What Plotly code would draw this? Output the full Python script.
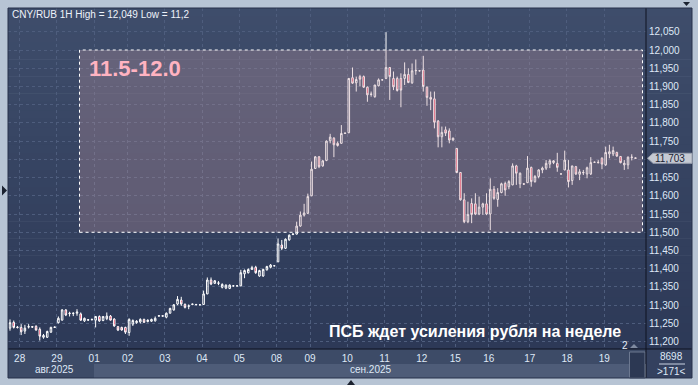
import plotly.graph_objects as go

# ---------------- data (hourly CNY/RUB candles) ----------------
opens = [11237, 11253, 11240, 11239, 11229, 11240, 11241, 11242, 11234, 11212,
         11212, 11226, 11239, 11252, 11259, 11287, 11278, 11277, 11278, 11276,
         11257, 11259, 11260, 11259, 11269, 11258, 11263, 11270, 11262, 11241,
         11239, 11239, 11225, 11248, 11252, 11254, 11261, 11255, 11256, 11257,
         11270, 11271, 11267, 11278, 11287, 11303, 11314, 11302, 11297, 11302,
         11301, 11301, 11302, 11331, 11369, 11360, 11360, 11349, 11347, 11346,
         11353, 11353, 11353, 11386, 11389, 11398, 11404, 11380, 11380, 11397,
         11404, 11408, 11419, 11465, 11456, 11479, 11494, 11495, 11517, 11547,
         11552, 11600, 11675, 11707, 11682, 11697, 11751, 11758, 11744, 11744,
         11771, 11773, 11924, 11910, 11927, 11927, 11898, 11878, 11872, 11902,
         11918, 11922, 11952, 11922, 11922, 11922, 11922, 11933, 11910, 11943,
         11943, 11945, 11898, 11870, 11866, 11805, 11762, 11781, 11778, 11753,
         11730, 11664, 11589, 11529, 11579, 11578, 11550, 11569, 11578, 11550,
         11618, 11590, 11609, 11634, 11625, 11630, 11682, 11633, 11633, 11636,
         11678, 11639, 11653, 11671, 11676, 11687, 11691, 11689, 11660, 11671,
         11671, 11642, 11680, 11659, 11663, 11660, 11660, 11692, 11692, 11703,
         11685, 11715, 11715, 11719, 11708, 11685, 11685, 11705, 11704]
highs = [11261, 11258, 11243, 11248, 11246, 11248, 11243, 11245, 11239, 11221,
         11230, 11241, 11241, 11269, 11289, 11289, 11282, 11280, 11289, 11280,
         11266, 11262, 11263, 11270, 11272, 11270, 11280, 11273, 11264, 11243,
         11241, 11241, 11264, 11261, 11259, 11264, 11263, 11261, 11263, 11269,
         11272, 11272, 11280, 11293, 11303, 11325, 11323, 11305, 11302, 11304,
         11303, 11302, 11340, 11376, 11376, 11369, 11366, 11360, 11357, 11357,
         11355, 11354, 11397, 11398, 11401, 11408, 11408, 11397, 11400, 11408,
         11413, 11409, 11483, 11479, 11483, 11494, 11497, 11529, 11557, 11578,
         11606, 11694, 11709, 11709, 11698, 11752, 11770, 11761, 11749, 11794,
         11773, 11923, 11952, 11927, 11932, 11930, 11900, 11886, 11904, 11922,
         11919, 12049, 11953, 11941, 11927, 11936, 11966, 11950, 11963, 11974,
         11945, 11984, 11900, 11886, 11886, 11808, 11790, 11790, 11785, 11760,
         11731, 11665, 11607, 11584, 11593, 11607, 11598, 11581, 11607, 11648,
         11627, 11621, 11636, 11639, 11643, 11689, 11685, 11664, 11634, 11709,
         11680, 11657, 11673, 11680, 11698, 11700, 11698, 11718, 11661, 11724,
         11698, 11682, 11682, 11673, 11671, 11680, 11706, 11694, 11698, 11706,
         11735, 11740, 11735, 11721, 11709, 11698, 11708, 11714, 11705]
lows = [11230, 11236, 11236, 11218, 11221, 11236, 11238, 11230, 11203, 11208,
        11210, 11224, 11238, 11250, 11258, 11270, 11269, 11270, 11271, 11257,
        11254, 11257, 11258, 11239, 11254, 11256, 11259, 11258, 11241, 11229,
        11230, 11221, 11216, 11243, 11249, 11250, 11251, 11253, 11254, 11255,
        11269, 11269, 11264, 11277, 11285, 11300, 11298, 11291, 11289, 11300,
        11300, 11300, 11301, 11330, 11355, 11358, 11355, 11346, 11344, 11344,
        11351, 11352, 11352, 11374, 11387, 11397, 11386, 11378, 11378, 11395,
        11401, 11407, 11418, 11451, 11454, 11477, 11492, 11494, 11515, 11543,
        11550, 11599, 11674, 11676, 11680, 11695, 11744, 11706, 11735, 11743,
        11770, 11772, 11907, 11886, 11900, 11896, 11858, 11872, 11869, 11900,
        11917, 11920, 11863, 11890, 11886, 11843, 11904, 11909, 11907, 11932,
        11941, 11886, 11847, 11835, 11785, 11733, 11733, 11764, 11744, 11751,
        11662, 11587, 11525, 11525, 11525, 11547, 11547, 11548, 11547, 11506,
        11589, 11570, 11607, 11600, 11618, 11629, 11630, 11621, 11631, 11635,
        11625, 11636, 11648, 11662, 11671, 11676, 11687, 11666, 11659, 11670,
        11623, 11630, 11657, 11643, 11657, 11648, 11657, 11690, 11689, 11673,
        11682, 11703, 11709, 11707, 11689, 11671, 11673, 11697, 11703]
closes = [11252, 11239, 11239, 11227, 11237, 11241, 11240, 11232, 11215, 11217,
          11228, 11239, 11240, 11264, 11287, 11273, 11277, 11278, 11281, 11259,
          11264, 11260, 11261, 11269, 11257, 11269, 11270, 11259, 11243, 11232,
          11232, 11226, 11261, 11258, 11256, 11261, 11253, 11259, 11261, 11264,
          11271, 11270, 11278, 11291, 11301, 11316, 11303, 11294, 11298, 11303,
          11302, 11301, 11331, 11369, 11358, 11367, 11361, 11357, 11355, 11355,
          11353, 11353, 11389, 11395, 11398, 11403, 11389, 11395, 11398, 11406,
          11410, 11408, 11468, 11456, 11481, 11492, 11495, 11517, 11547, 11553,
          11598, 11673, 11707, 11680, 11696, 11750, 11761, 11740, 11738, 11771,
          11772, 11922, 11909, 11919, 11920, 11898, 11877, 11879, 11904, 11918,
          11918, 11952, 11927, 11899, 11889, 11890, 11933, 11911, 11943, 11944,
          11943, 11900, 11870, 11865, 11802, 11762, 11774, 11772, 11753, 11758,
          11664, 11589, 11529, 11549, 11549, 11550, 11569, 11578, 11550, 11618,
          11593, 11609, 11633, 11616, 11639, 11682, 11662, 11662, 11632, 11676,
          11639, 11653, 11671, 11676, 11689, 11696, 11696, 11678, 11660, 11698,
          11639, 11682, 11660, 11666, 11664, 11677, 11691, 11692, 11691, 11687,
          11719, 11721, 11724, 11709, 11691, 11689, 11706, 11706, 11703]

# trading days: label and number of hourly candles in each (first is a partial day)
day_labels = ["", "28", "29", "01", "02", "03", "04", "05", "08", "09",
              "10", "11", "12", "15", "16", "17", "18", "19"]
day_sizes = [3, 10, 10, 9, 10, 10, 10, 10, 9, 10, 10, 10, 9, 9, 11, 10, 10, 9]
month_labels = ["авг.2025", "сен.2025"]
y_ticks = list(range(11200, 12051, 50))
zone_low, zone_high = 11500, 12000
zone_label = "11.5-12.0"
header = "CNY/RUB 1H High = 12,049 Low = 11,2"
caption = "ПСБ ждет усиления рубля на неделе"
bars_info = ["8698", ">171<"]

# ---------------- geometry helpers (pixels -> paper) ----------------
W, H = 698, 385
L, R, T, B = 8, 646, 8, 349
def px(x):
    return (x - L) / (R - L)
def py(y):
    return (B - y) / (B - T)

x_idx = list(range(len(opens)))
starts, acc = [], 0
for s in day_sizes:
    starts.append(acc)
    acc += s
tickvals = [st - 0.4 for st, lab in zip(starts, day_labels) if lab]
ticktext = [lab for lab in day_labels if lab]

last = closes[-1]
# the price marker hides the tick label nearest to the last price
hidden = min(y_ticks, key=lambda v: abs(v - last))
y_text = ["" if v == hidden else "{:,}".format(v) for v in y_ticks]

FONT = "Arial, 'Liberation Sans', sans-serif"
LABEL_C = "#dfe8f6"
FS = 10

fig = go.Figure()
fig.add_trace(go.Candlestick(
    x=x_idx, open=opens, high=highs, low=lows, close=closes,
    increasing=dict(line=dict(color="#ffffff", width=1), fillcolor="rgba(0,0,0,0)"),
    decreasing=dict(line=dict(color="#ffffff", width=1), fillcolor="#e8173f"),
    whiskerwidth=0, showlegend=False, hoverinfo="skip"))

shapes = []
# gradient background for chart panel
c0, c1 = (62, 77, 107), (45, 57, 87)
n = 40
for i in range(n):
    t = i / (n - 1)
    col = tuple(round(c0[k] + (c1[k] - c0[k]) * t) for k in range(3))
    y0 = T + (B - T) * i / n
    y1 = T + (B - T) * (i + 1) / n + 0.6
    shapes.append(dict(type="rect", xref="paper", yref="paper", layer="below",
                       x0=px(L), x1=px(692), y0=py(y1), y1=py(y0),
                       fillcolor="rgb(%d,%d,%d)" % col, line=dict(width=0)))
# bottom axis rows
shapes += [
    dict(type="rect", xref="paper", yref="paper", layer="below", x0=px(8), x1=px(646),
         y0=py(364), y1=py(349), fillcolor="#3d4b67", line=dict(width=0)),
    dict(type="rect", xref="paper", yref="paper", layer="below", x0=px(8), x1=px(94),
         y0=py(378), y1=py(364), fillcolor="#3d4b67", line=dict(width=0)),
    dict(type="rect", xref="paper", yref="paper", layer="below", x0=px(94), x1=px(629),
         y0=py(378), y1=py(364), fillcolor="#4e5c78", line=dict(width=0)),
    dict(type="rect", xref="paper", yref="paper", layer="below", x0=px(646), x1=px(692),
         y0=py(378), y1=py(349), fillcolor="#34415f", line=dict(width=0)),
    dict(type="rect", xref="paper", yref="paper", layer="above", x0=px(629.5), x1=px(645),
         y0=py(378), y1=py(352), fillcolor="#2c3853", line=dict(color="#6c7890", width=1)),
]
# zone rectangle
shapes.append(dict(type="rect", xref="paper", yref="y", layer="above",
                   x0=px(79.5), x1=px(642.5), y0=zone_low, y1=zone_high,
                   fillcolor="rgba(200,155,165,0.30)",
                   line=dict(color="#ffffff", width=1, dash="dot")))
# separators and border
shapes += [
    dict(type="line", xref="paper", yref="paper", layer="above", x0=px(8), x1=px(692),
         y0=py(349), y1=py(349), line=dict(color="#0e1320", width=1)),
    dict(type="line", xref="paper", yref="paper", layer="above", x0=px(646), x1=px(646),
         y0=py(378), y1=py(8), line=dict(color="#0e1320", width=1)),
    dict(type="rect", xref="paper", yref="paper", layer="above", x0=px(8), x1=px(692),
         y0=py(378), y1=py(8), line=dict(color="#26304a", width=1)),
    dict(type="line", xref="paper", yref="paper", layer="above", x0=px(659), x1=px(685),
         y0=py(364), y1=py(364), line=dict(color="#c9d3e3", width=1)),
]
# last price marker
dy = 5 * (12115.2 - 11179.8) / (B - T)
shapes.append(dict(type="path", xref="paper", yref="y", layer="above",
                   path="M %f,%f L %f,%f L %f,%f L %f,%f L %f,%f Z" % (
                       px(647.5), last, px(653), last + dy, px(692), last + dy,
                       px(692), last - dy, px(653), last - dy),
                   fillcolor="#c5cad3", line=dict(color="#9aa2b0", width=1)))
# small triangles around the frame
def tri(points, color):
    p = " L ".join("%f,%f" % (px(a), py(b)) for a, b in points)
    return dict(type="path", xref="paper", yref="paper", layer="above",
                path="M " + p + " Z", fillcolor=color, line=dict(width=0))
shapes += [
    tri([(2, 185.5), (7, 190.5), (2, 195.5)], "#1b2230"),
    tri([(683, 2), (690, 2), (686.5, 6)], "#1b2230"),
    tri([(347, 385), (355, 385), (351, 380)], "#1b2230"),
    tri([(630, 348), (638, 348), (634, 344)], "#7f8aa0"),
]

ann = [
    dict(x=px(10), y=py(15), text=header, xanchor="left", yanchor="middle",
         font=dict(size=FS, color="#eef2fa", family=FONT)),
    dict(x=px(87), y=py(69), text="<b>%s</b>" % zone_label, xanchor="left", yanchor="middle",
         font=dict(size=22, color="#ffb3c1", family=FONT)),
    dict(x=px(475), y=py(331), text="<b>%s</b>" % caption, xanchor="center", yanchor="middle",
         font=dict(size=16, color="#ffffff", family=FONT)),
    dict(x=px(625), y=py(345), text="2", xanchor="center", yanchor="middle",
         font=dict(size=10, color="#e8eef8", family=FONT)),
    dict(x=px(54), y=py(369.5), text=month_labels[0], xanchor="center", yanchor="middle",
         font=dict(size=FS, color=LABEL_C, family=FONT)),
    dict(x=px(371), y=py(369.5), text=month_labels[1], xanchor="center", yanchor="middle",
         font=dict(size=FS, color=LABEL_C, family=FONT)),
    dict(x=px(671.5), y=py(356.5), text=bars_info[0], xanchor="center", yanchor="middle",
         font=dict(size=FS, color=LABEL_C, family=FONT)),
    dict(x=px(671.5), y=py(371), text=bars_info[1], xanchor="center", yanchor="middle",
         font=dict(size=FS, color=LABEL_C, family=FONT)),
    dict(x=px(670), y=last, yref="y", text="{:,}".format(last), xanchor="center", yanchor="middle",
         font=dict(size=FS, color="#1a2233", family=FONT)),
]
for a in ann:
    a.setdefault("xref", "paper")
    a.setdefault("yref", "paper")
    a["showarrow"] = False

GRID = "#4e5d7d"
fig.update_layout(
    width=W, height=H, margin=dict(l=L, r=W - R, t=T, b=H - B, pad=0),
    paper_bgcolor="#b7c4d4", plot_bgcolor="rgba(0,0,0,0)",
    showlegend=False, boxgap=0.4,
    font=dict(family=FONT, size=FS, color=LABEL_C),
    shapes=shapes, annotations=ann,
    xaxis=dict(range=[-0.537, 170.83], tickvals=tickvals, ticktext=ticktext,
               showgrid=True, gridcolor=GRID, griddash="3px,3px", gridwidth=1,
               zeroline=False, showline=False, ticks="", ticklabelstandoff=2,
               tickfont=dict(size=FS, color=LABEL_C, family=FONT),
               rangeslider=dict(visible=False), fixedrange=True),
    yaxis=dict(range=[11179.8, 12115.2], side="right", tickvals=y_ticks, ticktext=y_text,
               showgrid=True, gridcolor=GRID, griddash="3px,3px", gridwidth=1,
               zeroline=False, showline=False, ticks="", ticklabelstandoff=2,
               tickfont=dict(size=FS, color=LABEL_C, family=FONT), fixedrange=True),
)
fig.write_html("out.html")
